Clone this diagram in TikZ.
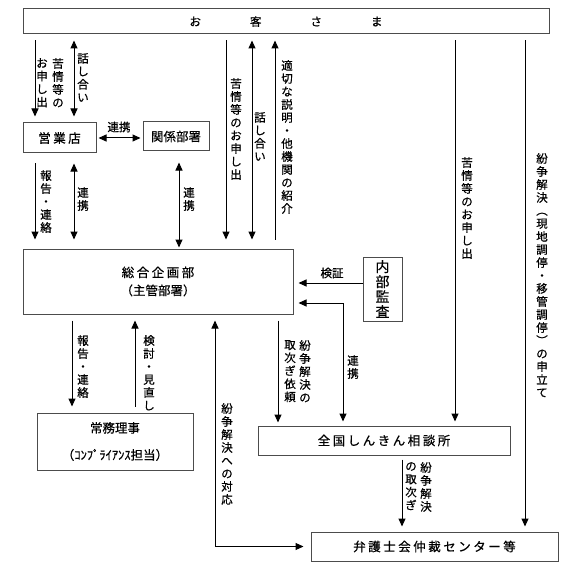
\documentclass[tikz,border=0pt]{standalone}
\usepackage{fontspec}
\setmainfont{Noto Sans CJK JP}[FakeBold=0.6]
\newfontfamily\widejp[LetterSpace=20, FakeBold=0.6]{Noto Sans CJK JP}
\usetikzlibrary{arrows.meta}

% vertical text, one character per line
\newcommand\tate[1]{\tatefirst#1\relax}
\def\tatefirst#1{#1\tatenext}
\def\tatenext#1{\ifx\relax#1\else\\#1\expandafter\tatenext\fi}

\tikzset{
  box/.style={draw=black!70, line width=1pt, inner sep=0pt, font=\fontsize{12.5}{15}\selectfont},
  link/.style={line width=1pt, shorten <=6pt, shorten >=6pt},
  vlab/.style={align=center, inner sep=0pt, anchor=north, font=\fontsize{11.5}{13}\selectfont},
  hlab/.style={inner sep=0pt, font=\fontsize{11.5}{13}\selectfont},
  >={Triangle[length=8pt,width=7pt]}
}

\begin{document}
\begin{tikzpicture}[x=1pt, y=-1pt]
\useasboundingbox (0,0) rectangle (580,580);

% boxes
\node[box, minimum width=526pt, minimum height=25pt, font=\fontsize{11.5}{13}\selectfont] (cust) at (286,21.5) {お\hspace{49pt}客\hspace{49pt}さ\hspace{49pt}ま};
\node[box, minimum width=73pt, minimum height=30pt] (eigyo) at (59.5,138) {\widejp 営業店};
\node[box, minimum width=66pt, minimum height=29pt] (kankei) at (176,136.5) {関係部署};
\node[box, minimum width=270pt, minimum height=65pt, align=center, font=\fontsize{12.5}{18}\selectfont] (sogo) at (158,281.5) {{\widejp 総合企画部}\\（主管部署）};
\node[box, minimum width=39pt, minimum height=64pt, align=center, font=\fontsize{14}{15}\selectfont] (naibu) at (382.5,289) {\tate{内部監査}};
\node[box, minimum width=156pt, minimum height=57pt, align=center, font=\fontsize{12.5}{27}\selectfont] (jomu) at (115,441.5) {常務理事\\（ｺﾝﾌﾟﾗｲｱﾝｽ担当）};
\node[box, minimum width=252pt, minimum height=29pt] (zenkoku) at (384,440.5) {\widejp 全国しんきん相談所};
\node[box, minimum width=247pt, minimum height=29pt] (bengo) at (434.5,546.5) {\widejp 弁護士会仲裁センター等};

% columns of the arrows
\coordinate (p1) at (35,0);
\coordinate (p2) at (74,0);
\coordinate (p3) at (179,0);
\coordinate (p4) at (226,0);
\coordinate (p5) at (252,0);
\coordinate (p6) at (275,0);
\coordinate (p7) at (455,0);
\coordinate (p8) at (525,0);
\coordinate (p9) at (72,0);
\coordinate (p10) at (135,0);
\coordinate (p11) at (215,0);
\coordinate (p12) at (278,0);
\coordinate (p13) at (402,0);
\coordinate (p14) at (343,0);
\coordinate (q1) at (0,283);
\coordinate (q2) at (0,303);

% arrows
\draw[link, ->] (cust.south -| p1) -- (eigyo.north -| p1);
\draw[link, <->] (cust.south -| p2) -- (eigyo.north -| p2);
\draw[link, <->, shorten <=2pt, shorten >=2pt] (eigyo.east) -- (kankei.west |- eigyo.east);

\draw[link, ->, shorten <=10pt, shorten >=9pt] (eigyo.south -| p1) -- (sogo.north -| p1);
\draw[link, <->, shorten <=10pt, shorten >=9pt] (eigyo.south -| p2) -- (sogo.north -| p2);
\draw[link, <->, shorten <=11pt, shorten >=1pt] (kankei.south -| p3) -- (sogo.north -| p3);

\draw[link, ->, shorten >=9pt] (cust.south -| p4) -- (sogo.north -| p4);
\draw[link, <->, shorten >=9pt] (cust.south -| p5) -- (sogo.north -| p5);
\draw[link, <-, shorten >=9pt] (cust.south -| p6) -- (sogo.north -| p6);
\draw[link, ->, shorten >=4pt] (cust.south -| p7) -- (zenkoku.north -| p7);
\draw[link, ->, shorten >=5pt] (cust.south -| p8) -- (bengo.north -| p8);

\draw[link, <-, shorten <=5pt, shorten >=0pt] (sogo.east |- q1) -- (naibu.west |- q1);
\draw[link, <->, shorten <=5pt, shorten >=4pt] (sogo.east |- q2) -| (zenkoku.north -| p14);
\draw[link, ->, shorten >=3pt] (sogo.south -| p12) -- (zenkoku.north -| p12);

\draw[link, ->] (sogo.south -| p9) -- (jomu.north -| p9);
\draw[link, <-] (sogo.south -| p10) -- (jomu.north -| p10);
\draw[link, <->, shorten >=7pt] (sogo.south -| p11) |- (bengo.west);
\draw[link, ->, shorten <=4pt, shorten >=5pt] (zenkoku.south -| p13) -- (bengo.north -| p13);

% labels
\node[vlab] (l1) at (42,58) {\tate{お申し出}};
\node[vlab] (l2) at (58,58) {\tate{苦情等の}};
\node[vlab] (l3) at (83,53) {\tate{話し合い}};
\node[hlab] (l4) at (119,127) {連携};
\node[vlab] (l5) at (46,170) {\tate{報告・連絡}};
\node[vlab] (l6) at (83,187) {\tate{連携}};
\node[vlab] (l7) at (189,187) {\tate{連携}};
\node[vlab] (l8) at (236,78) {\tate{苦情等のお申し出}};
\node[vlab] (l9) at (260,112) {\tate{話し合い}};
\node[vlab] (l10) at (287,60) {\tate{適切な説明・他機関の紹介}};
\node[vlab] (l11) at (467,157) {\tate{苦情等のお申し出}};
\node[vlab] (l12) at (542,153) {\tate{紛争解決︵現地調停・移管調停︶の申立て}};
\node[hlab] (l13) at (332,273) {検証};
\node[vlab] (l14) at (353,355) {\tate{連携}};
\node[vlab] (l15) at (305,340) {\tate{紛争解決の}};
\node[vlab] (l16) at (290,340) {\tate{取次ぎ依頼}};
\node[vlab] (l17) at (83,335) {\tate{報告・連絡}};
\node[vlab] (l18) at (149,335) {\tate{検討・見直し}};
\node[vlab] (l19) at (227,403) {\tate{紛争解決への対応}};
\node[vlab] (l20) at (426,462) {\tate{紛争解決}};
\node[vlab] (l21) at (411,462) {\tate{の取次ぎ}};

\end{tikzpicture}
\end{document}
